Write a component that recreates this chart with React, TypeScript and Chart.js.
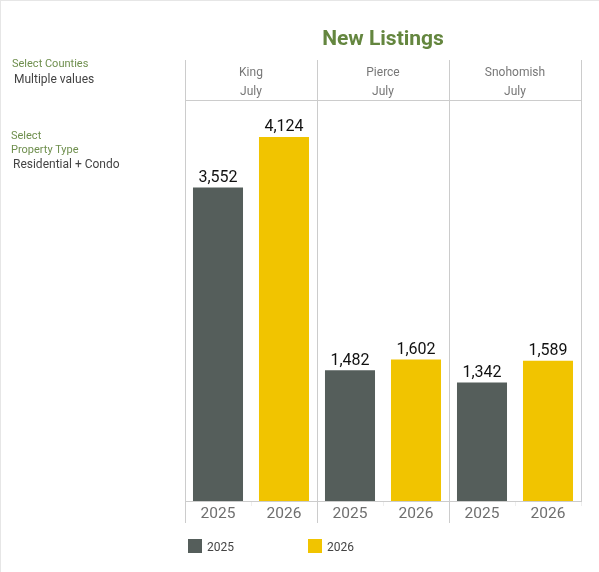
import { useEffect, useRef } from 'react';
import { Chart, registerables } from 'chart.js';

Chart.register(...registerables);

const counties = ['King', 'Pierce', 'Snohomish'];
const month = 'July';
const years = ['2025', '2026'];
const values2025 = [3552, 1482, 1342];
const values2026 = [4124, 1602, 1589];
const yMax = 4543;

const FONT = 'Roboto, sans-serif';
const GREEN = '#64863f';
const LABEL_GREEN = '#6f8f4e';
const DARK = '#555e5b';
const YELLOW = '#f1c400';
const GRID = '#cccccc';

// Value labels above each bar
const barLabels = {
  id: 'barLabels',
  afterDatasetsDraw(chart: Chart) {
    const { ctx } = chart;
    ctx.save();
    ctx.font = `16px ${FONT}`;
    ctx.fillStyle = '#111111';
    ctx.textAlign = 'center';
    ctx.textBaseline = 'bottom';
    chart.data.datasets.forEach((ds, i) => {
      chart.getDatasetMeta(i).data.forEach((bar, j) => {
        const value = ds.data[j] as number;
        ctx.fillText(value.toLocaleString('en-US'), bar.x, bar.y - 1.5);
      });
    });
    ctx.restore();
  },
};

function Text({ x, y, size, color, children }: any) {
  return (
    <div
      style={{
        position: 'absolute',
        left: x,
        top: y,
        fontSize: size,
        lineHeight: '16px',
        color,
        whiteSpace: 'nowrap',
      }}
    >
      {children}
    </div>
  );
}

export default function App() {
  const canvasRef = useRef<HTMLCanvasElement>(null);

  useEffect(() => {
    if (!canvasRef.current) return;

    const chart = new Chart(canvasRef.current, {
      type: 'bar',
      data: {
        labels: counties.map((c) => [c, month]),
        datasets: [
          { label: years[0], data: values2025, backgroundColor: DARK, xAxisID: 'x', categoryPercentage: 1, barPercentage: 0.758 },
          { label: years[1], data: values2026, backgroundColor: YELLOW, xAxisID: 'x', categoryPercentage: 1, barPercentage: 0.758 },
        ],
      },
      options: {
        responsive: false,
        animation: false,
        layout: { padding: { left: 185, right: 18, top: 60, bottom: 49 } },
        plugins: { legend: { display: false }, tooltip: { enabled: false }, title: { display: false } },
        scales: {
          // county + month header above the plot
          x: {
            position: 'top',
            offset: true,
            border: { display: true, color: GRID },
            grid: { offset: true, color: GRID, tickColor: GRID, tickLength: 40 },
            ticks: {
              autoSkip: false,
              maxRotation: 0,
              padding: -42,
              color: '#777777',
              font: { family: FONT, size: 12, lineHeight: '19.5px' },
            },
            afterFit: (scale: any) => {
              scale.height = 40;
            },
          },
          // year labels under the bars
          years: {
            type: 'category',
            position: 'bottom',
            labels: counties.flatMap(() => years),
            offset: true,
            border: { display: true, color: GRID },
            grid: {
              offset: true,
              drawOnChartArea: false,
              tickLength: 22,
              tickColor: (c: any) => (c.index % 2 === 0 ? GRID : '#eeeeee'),
              tickBorderDash: (c: any) => (c.index % 2 === 0 ? [] : [4, 100]),
            },
            ticks: {
              autoSkip: false,
              maxRotation: 0,
              padding: -18,
              color: '#6f6f6f',
              font: { family: FONT, size: 15.5 },
            },
            afterFit: (scale: any) => {
              scale.height = 22;
            },
          },
          y: { display: false, min: 0, max: yMax },
        },
      },
      plugins: [barLabels],
    } as any);

    return () => chart.destroy();
  }, []);

  return (
    <div
      style={{
        position: 'absolute',
        left: 0,
        top: 0,
        width: 599,
        height: 572,
        background: '#ffffff',
        fontFamily: FONT,
        overflow: 'hidden',
      }}
    >
      <canvas ref={canvasRef} width={599} height={572} style={{ display: 'block', width: 599, height: 572 }} />
      <div style={{ position: 'absolute', left: 0, top: 0, width: 599, height: 1, background: '#e6e6e6' }} />
      <div style={{ position: 'absolute', left: 0, top: 0, width: 1, height: 572, background: '#e6e6e6' }} />

      <div
        style={{
          position: 'absolute',
          left: 185,
          width: 396,
          top: 24,
          textAlign: 'center',
          fontSize: 21,
          lineHeight: '28px',
          fontWeight: 700,
          color: GREEN,
        }}
      >
        New Listings
      </div>

      <Text x={12} y={56} size={11} color={LABEL_GREEN}>Select Counties</Text>
      <Text x={14} y={71} size={12} color="#444444">Multiple values</Text>
      <Text x={11} y={128} size={11} color={LABEL_GREEN}>Select</Text>
      <Text x={11} y={142} size={11} color={LABEL_GREEN}>Property Type</Text>
      <Text x={13} y={156} size={12} color="#444444">Residential + Condo</Text>

      <div style={{ position: 'absolute', left: 188, top: 539, width: 14, height: 14, background: DARK }} />
      <Text x={207} y={539} size={12} color="#444444">{years[0]}</Text>
      <div style={{ position: 'absolute', left: 308, top: 539, width: 14, height: 14, background: YELLOW }} />
      <Text x={327} y={539} size={12} color="#444444">{years[1]}</Text>
    </div>
  );
}
